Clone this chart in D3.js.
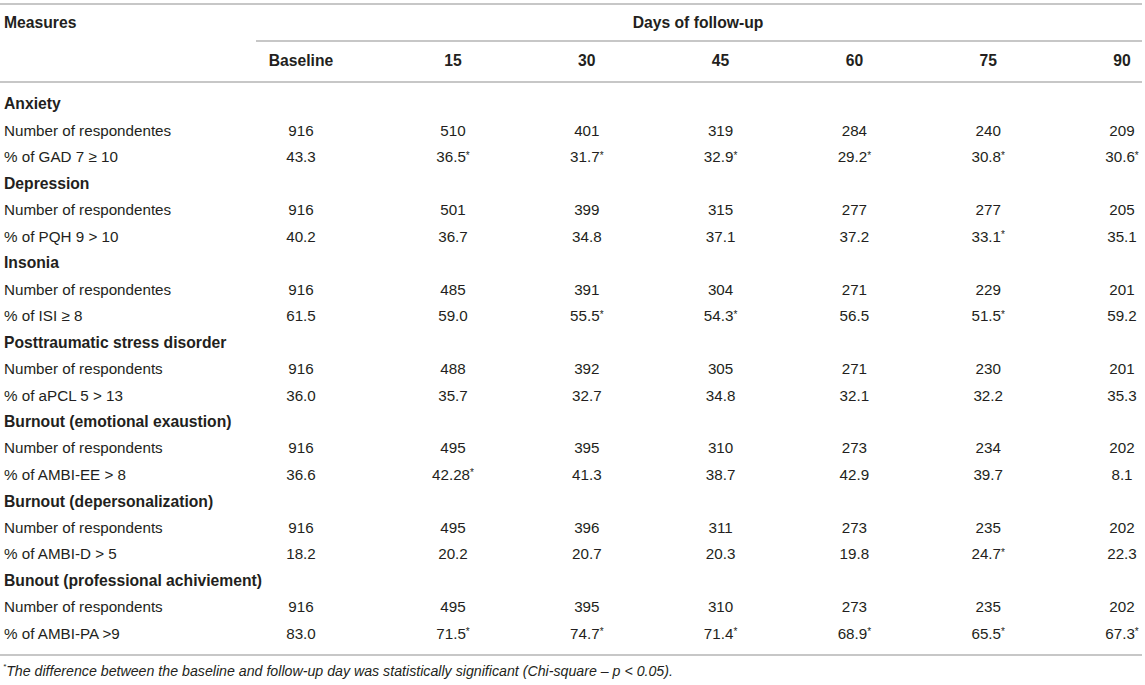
<!DOCTYPE html>
<html><head><meta charset="utf-8">
<script src="https://cdn.jsdelivr.net/npm/d3@7/dist/d3.min.js"></script>
<style>
html,body{margin:0;padding:0;background:#fff;}
svg{display:block;font-family:"Liberation Sans",Arial,Helvetica,sans-serif;}
</style></head>
<body>
<svg id="chart" width="1145" height="685"></svg>
<script>
const headerLeft = "Measures";
const headerSpan = "Days of follow-up";
const columns = ["Baseline","15","30","45","60","75","90"];
const followDays = [15,30,45,60,75,90];
const groups = ["Anxiety","Depression","Insonia","Posttraumatic stress disorder","Burnout (emotional exaustion)","Burnout (depersonalization)","Bunout (professional achiviement)"];
const countLabels = ["Number of respondentes","Number of respondentes","Number of respondentes","Number of respondents","Number of respondents","Number of respondents","Number of respondents"];
const pctLabels = ["% of GAD 7 \u2265 10","% of PQH 9 > 10","% of ISI \u2265 8","% of aPCL 5 > 13","% of AMBI-EE > 8","% of AMBI-D > 5","% of AMBI-PA >9"];
const counts = [
  [916,510,401,319,284,240,209],
  [916,501,399,315,277,277,205],
  [916,485,391,304,271,229,201],
  [916,488,392,305,271,230,201],
  [916,495,395,310,273,234,202],
  [916,495,396,311,273,235,202],
  [916,495,395,310,273,235,202]
];
const pcts = [
  ["43.3","36.5*","31.7*","32.9*","29.2*","30.8*","30.6*"],
  ["40.2","36.7","34.8","37.1","37.2","33.1*","35.1"],
  ["61.5","59.0","55.5*","54.3*","56.5","51.5*","59.2"],
  ["36.0","35.7","32.7","34.8","32.1","32.2","35.3"],
  ["36.6","42.28*","41.3","38.7","42.9","39.7","8.1"],
  ["18.2","20.2","20.7","20.3","19.8","24.7*","22.3"],
  ["83.0","71.5*","74.7*","71.4*","68.9*","65.5*","67.3*"]
];
const footnote = "The difference between the baseline and follow-up day was statistically significant (Chi-square \u2013 p < 0.05).";

const svg = d3.select("#chart");
const textColor = "#231f20";
const lineColor = "#b4b4b4";
const fs = 15.2;
const fsBold = 15.7;

// scales
const xDays = d3.scaleLinear().domain([15,90]).range([453,1122]);
const colX = d3.scaleOrdinal().domain(columns).range([301].concat(followDays.map(d=>xDays(d))));
const nRows = groups.length*3;
const yRow = d3.scaleLinear().domain([0,nRows-1]).range([104,633.5]);

function hline(y,x1,x2){
  svg.append("line").attr("x1",x1).attr("x2",x2).attr("y1",y).attr("y2",y)
    .attr("stroke",lineColor).attr("stroke-width",1.6);
}
hline(4,0,1142);
hline(41,256,1142);
hline(82,0,1142);
hline(655,0,1142);

svg.append("text").attr("x",4).attr("y",23).attr("dy","0.35em")
  .attr("font-size",fsBold).attr("font-weight","bold").attr("fill",textColor).text(headerLeft);
svg.append("text").attr("x",698).attr("y",23).attr("dy","0.35em").attr("text-anchor","middle")
  .attr("font-size",fsBold).attr("font-weight","bold").attr("fill",textColor).text(headerSpan);

svg.selectAll("text.colh").data(columns).join("text").attr("class","colh")
  .attr("x",d=>colX(d)).attr("y",61).attr("dy","0.35em").attr("text-anchor","middle")
  .attr("font-size",fsBold).attr("font-weight","bold").attr("fill",textColor).text(d=>d);

// rows
const rows = [];
groups.forEach((g,i)=>{
  rows.push({label:g, bold:true, vals:null});
  rows.push({label:countLabels[i], bold:false, vals:counts[i].map(String)});
  rows.push({label:pctLabels[i], bold:false, vals:pcts[i]});
});

rows.forEach((r,i)=>{
  const y = yRow(i);
  svg.append("text").attr("x",4).attr("y",y).attr("dy","0.35em")
    .attr("font-size",r.bold?fsBold:fs).attr("font-weight",r.bold?"bold":"normal").attr("fill",textColor).text(r.label);
  if(r.vals){
    r.vals.forEach((v,j)=>{
      const star = v.endsWith("*");
      const num = star ? v.slice(0,-1) : v;
      const t = svg.append("text").attr("x",colX(columns[j])).attr("y",y).attr("dy","0.35em")
        .attr("text-anchor","middle").attr("font-size",fs).attr("fill",textColor);
      t.append("tspan").text(num);
      if(star) t.append("tspan").attr("font-size",10).attr("dy","-0.35em").text("*");
    });
  }
});

const fn = svg.append("text").attr("x",3).attr("y",673).attr("dy","0.35em")
  .attr("font-size",14.2).attr("font-style","italic").attr("fill",textColor);
fn.append("tspan").attr("font-size",8).attr("dy","-0.5em").text("*");
fn.append("tspan").attr("dy","0.5em").text(footnote);
</script>
</body></html>
